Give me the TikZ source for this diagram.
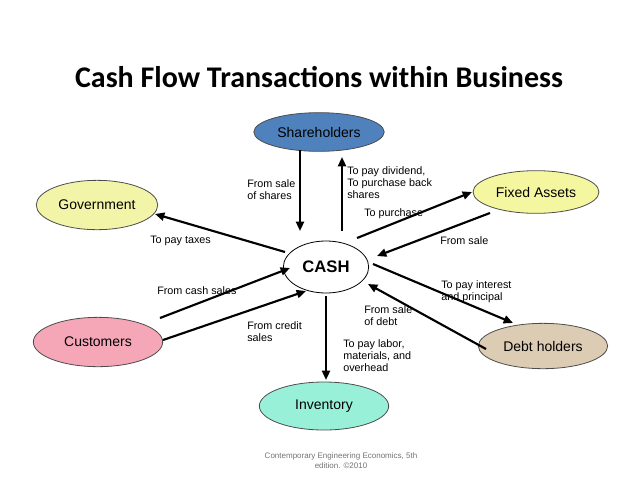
\documentclass[tikz,border=0pt]{standalone}
\usepackage{fontspec}
\setmainfont{Liberation Sans}
\newfontfamily\titlefont{Carlito}
\usetikzlibrary{shapes.geometric,arrows.meta}
\begin{document}
\begin{tikzpicture}[x=0.75pt,y=-0.75pt,
  ell/.style={ellipse,draw=black!70,line width=0.6pt,minimum width=#1},
  flow/.style={-{Triangle[length=7pt,width=6pt]},line width=1.6pt},
  lab/.style={font=\fontsize{8.1}{9.2}\selectfont,align=left,anchor=north west,inner sep=0pt}]
\useasboundingbox (0,0) rectangle (638,479);
\node (title) at (319,77) {\titlefont\bfseries\fontsize{22.5}{26}\selectfont Cash Flow Transactions within Business};
\node[ell=90pt,minimum height=29pt,fill={rgb,255:red,79;green,129;blue,189}] (sh) at (319,132) {\fontsize{10.5}{12}\selectfont Shareholders};
\node[ell=90pt,minimum height=37pt,fill={rgb,255:red,242;green,245;blue,168}] (gov) at (97,205) {\fontsize{10.5}{12}\selectfont Government};
\node[ell=93pt,minimum height=32pt,fill={rgb,255:red,245;green,247;blue,160}] (fa) at (536,192) {\fontsize{10.5}{12}\selectfont Fixed Assets};
\node[ell=64pt,minimum height=39pt,fill=white,draw=black] (cash) at (326,267) {\fontsize{12.5}{14}\selectfont\bfseries CASH};
\node[ell=97pt,minimum height=37pt,fill={rgb,255:red,245;green,167;blue,184}] (cu) at (98,342) {\fontsize{10.5}{12}\selectfont Customers};
\node[ell=97pt,minimum height=34pt,fill={rgb,255:red,221;green,204;blue,180}] (dh) at (543,346) {\fontsize{10.5}{12}\selectfont Debt holders};
\node[ell=97pt,minimum height=36pt,fill={rgb,255:red,153;green,240;blue,216}] (inv) at (324,406) {\fontsize{10.5}{12}\selectfont Inventory};

\coordinate (a1) at (300,150); \coordinate (a2) at (300,231);
\draw[flow] (a1) -- (a2);
\coordinate (b1) at (342,231); \coordinate (b2) at (342,157);
\draw[flow] (b1) -- (b2);
\coordinate (c1) at (285,252); \coordinate (c2) at (155,214);
\draw[flow] (c1) -- (c2);
\coordinate (d1) at (357,238); \coordinate (d2) at (472,192);
\draw[flow] (d1) -- (d2);
\coordinate (e1) at (490,213); \coordinate (e2) at (377,256);
\draw[flow] (e1) -- (e2);
\coordinate (f1) at (373,264); \coordinate (f2) at (513,323);
\draw[flow] (f1) -- (f2);
\coordinate (g1) at (486,349); \coordinate (g2) at (368,284);
\draw[flow] (g1) -- (g2);
\coordinate (h1) at (160,318); \coordinate (h2) at (290,268);
\draw[flow] (h1) -- (h2);
\coordinate (i1) at (163,340); \coordinate (i2) at (306,291);
\draw[flow] (i1) -- (i2);
\coordinate (j1) at (326,296); \coordinate (j2) at (326,380);
\draw[flow] (j1) -- (j2);

\node[lab] (l1) at (247,179) {From sale\\of shares};
\node[lab] (l2) at (347,166) {To pay dividend,\\To purchase back\\shares};
\node[lab] (l3) at (364,208) {To purchase};
\node[lab] (l4) at (150,236) {To pay taxes};
\node[lab] (l5) at (440,236) {From sale};
\node[lab] (l6) at (157,286) {From cash sales};
\node[lab] (l7) at (441,280) {To pay interest\\and principal};
\node[lab] (l8) at (364,305) {From sale\\of debt};
\node[lab] (l9) at (247,321) {From credit\\sales};
\node[lab] (l10) at (343,339) {To pay labor,\\materials, and\\overhead};
\node[font=\fontsize{6}{7.5}\selectfont,align=center,text=black!55] (foot) at (341,461) {Contemporary Engineering Economics, 5th\\edition. \textcopyright2010};
\end{tikzpicture}
\end{document}
